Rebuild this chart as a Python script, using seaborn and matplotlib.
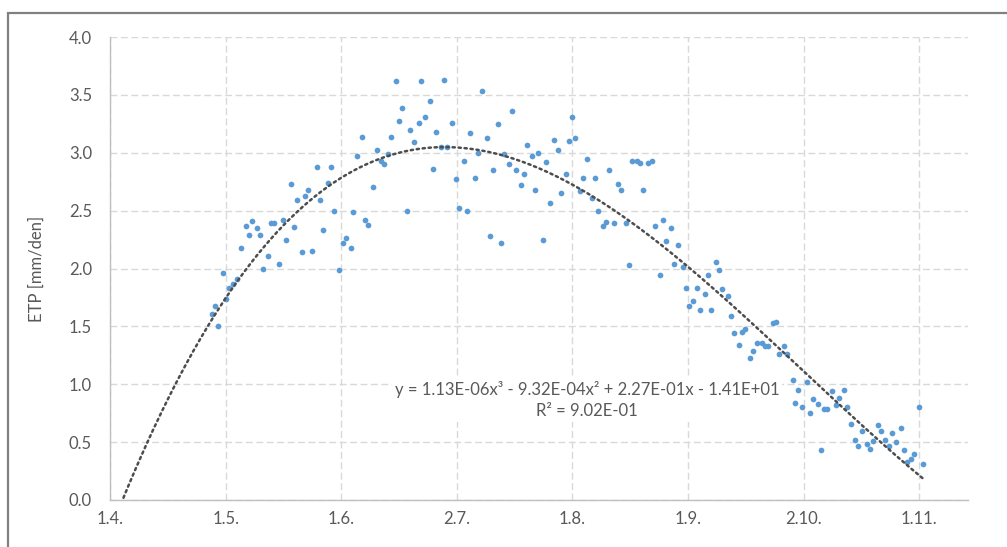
import numpy as np
import pandas as pd
import matplotlib
matplotlib.use("Agg")
import matplotlib.pyplot as plt
from matplotlib.patches import Rectangle
import seaborn as sns

# ---- data (days after 1.4., ETP in mm/day) ----
days = [26.9, 27.7, 28.6, 29.9, 30.8, 31.6, 32.6, 33.7, 34.6, 35.9,
        36.7, 37.6, 38.8, 39.8, 40.6, 41.9, 42.7, 43.4, 44.8, 45.7,
        46.6, 47.8, 48.8, 49.6, 50.9, 51.7, 52.5, 53.5, 54.7, 55.6,
        56.4, 57.7, 58.5, 59.4, 60.7, 61.6, 62.5, 63.7, 64.4, 65.4,
        66.6, 67.6, 68.4, 69.6, 70.6, 71.7, 72.6, 73.6, 74.4, 75.7,
        76.6, 77.4, 78.7, 79.5, 80.4, 81.7, 82.4, 83.5, 84.6, 85.6,
        86.4, 87.5, 88.5, 89.3, 90.4, 91.5, 92.3, 93.7, 94.5, 95.3,
        96.7, 97.5, 98.4, 99.7, 100.5, 101.5, 102.6, 103.5, 104.4, 105.7,
        106.5, 107.4, 108.7, 109.6, 110.4, 111.7, 112.5, 113.4, 114.6, 115.5,
        116.4, 117.6, 118.5, 119.4, 120.6, 121.5, 122.3, 123.2, 124.5, 125.3,
        126.2, 127.5, 128.3, 129.2, 130.4, 131.3, 132.2, 133.5, 134.4, 135.2,
        136.5, 137.4, 138.2, 139.5, 140.4, 141.2, 142.5, 143.4, 144.3, 145.5,
        146.4, 147.2, 148.6, 149.4, 150.3, 151.6, 152.4, 153.3, 154.4, 155.3,
        156.2, 157.4, 158.4, 159.1, 160.5, 161.3, 162.1, 163.5, 164.3, 165.2,
        166.4, 167.3, 168.2, 169.4, 170.3, 171.2, 172.5, 173.4, 174.2, 175.4,
        176.2, 177.1, 178.4, 179.3, 180.8, 181.4, 182.2, 183.1, 184.4, 185.3,
        186.2, 187.4, 188.2, 188.9, 189.8, 191.2, 192.2, 192.9, 194.2, 195.1,
        196.0, 197.2, 198.1, 199.0, 200.3, 201.2, 202.0, 203.3, 204.2, 205.0,
        206.3, 207.1, 208.0, 209.3, 210.1, 211.0, 211.9, 212.9, 214.0, 215.3]

etp = [1.61, 1.68, 1.50, 1.96, 1.74, 1.83, 1.87, 1.91, 2.18, 2.37,
       2.29, 2.41, 2.35, 2.29, 2.00, 2.11, 2.39, 2.39, 2.04, 2.42,
       2.25, 2.73, 2.36, 2.59, 2.14, 2.63, 2.68, 2.15, 2.88, 2.59,
       2.33, 2.74, 2.88, 2.50, 1.99, 2.22, 2.26, 2.18, 2.49, 2.97,
       3.14, 2.42, 2.38, 2.70, 3.02, 2.93, 2.90, 2.99, 3.14, 3.62,
       3.27, 3.39, 2.50, 3.20, 3.09, 3.26, 3.62, 3.31, 3.45, 2.86,
       3.18, 3.05, 3.63, 3.05, 3.26, 2.77, 2.52, 2.93, 2.50, 3.17,
       2.78, 3.00, 3.53, 3.13, 2.28, 2.85, 3.25, 2.22, 2.99, 2.90,
       3.36, 2.85, 2.72, 2.82, 3.07, 2.97, 2.68, 3.00, 2.25, 2.92,
       2.57, 3.11, 3.02, 2.65, 2.82, 3.10, 3.31, 3.13, 2.67, 2.78,
       2.95, 2.61, 2.78, 2.50, 2.37, 2.40, 2.85, 2.39, 2.73, 2.68,
       2.39, 2.03, 2.93, 2.93, 2.91, 2.68, 2.91, 2.93, 2.37, 1.94,
       2.42, 2.24, 2.35, 2.04, 2.20, 2.01, 1.83, 1.68, 1.72, 1.83,
       1.64, 1.78, 1.94, 1.64, 2.06, 1.99, 1.82, 1.76, 1.59, 1.44,
       1.34, 1.45, 1.48, 1.23, 1.29, 1.36, 1.36, 1.33, 1.33, 1.53,
       1.54, 1.26, 1.33, 1.26, 1.04, 0.84, 0.95, 0.80, 1.02, 0.75,
       0.87, 0.83, 0.43, 0.79, 0.79, 0.94, 0.82, 0.88, 0.95, 0.80,
       0.66, 0.52, 0.47, 0.60, 0.48, 0.44, 0.51, 0.65, 0.60, 0.52,
       0.47, 0.58, 0.50, 0.62, 0.43, 0.33, 0.35, 0.40, 0.80, 0.31]

tick_labels = ["1.4.", "1.5.", "1.6.", "2.7.", "1.8.", "1.9.", "2.10.", "1.11."]
y_ticks = [0.0, 0.5, 1.0, 1.5, 2.0, 2.5, 3.0, 3.5, 4.0]
equation = "y = 1.13E-06x³ - 9.32E-04x² + 2.27E-01x - 1.41E+01\nR² = 9.02E-01"

df = pd.DataFrame({"day": days, "ETP": etp})

# ---- style ----
sns.set_theme(style="white")
plt.rcParams["font.family"] = ["Lato", "DejaVu Sans"]
text_color = "#595959"
fs = 12

W, H = 1007, 547
fig = plt.figure(figsize=(W / 100, H / 100), dpi=100)
ax = fig.add_axes([110 / W, 1 - 500 / H, (968 - 110) / W, (500 - 37) / H])

# outer chart-area border (cropped screenshot)
fig.patches.append(Rectangle((8 / W, -0.1), 1.2, (H - 13) / H + 0.1,
                             transform=fig.transFigure, fill=False,
                             edgecolor="#808080", linewidth=1.6, zorder=10))

# x axis: Excel-like evenly spaced major unit
major_unit = 30.6
x_ticks = [i * major_unit for i in range(len(tick_labels))]
ax.set_xlim(0, 227.1)
ax.set_ylim(0, 4.0)
ax.set_xticks(x_ticks)
ax.set_xticklabels(tick_labels)
ax.set_yticks(y_ticks)
ax.set_yticklabels([f"{v:.1f}" for v in y_ticks])

ax.grid(True, color="#D9D9D9", linestyle=(0, (5, 2.5)), linewidth=1.0)
ax.set_axisbelow(True)
for s in ["top", "right"]:
    ax.spines[s].set_visible(False)
for s in ["left", "bottom"]:
    ax.spines[s].set_color("#BFBFBF")
    ax.spines[s].set_linewidth(1.0)

ax.tick_params(axis="both", length=0, labelsize=fs, labelcolor=text_color)
ax.tick_params(axis="y", pad=13)
ax.tick_params(axis="x", pad=8)

# points
sns.scatterplot(data=df, x="day", y="ETP", ax=ax, s=17, color="#5B9BD5",
                linewidth=0, zorder=3, legend=False)

# cubic trendline (fitted to the data, with backward forecast clipped at 0)
coef = np.polyfit(df["day"], df["ETP"], 3)
xt = np.linspace(-10, df["day"].max(), 400)
yt = np.polyval(coef, xt)
ax.plot(xt, yt, color="#4D4D4D", linewidth=1.8, linestyle=(0, (0.9, 1.5)),
        dash_capstyle="round", zorder=4)

ax.text((587 - 110) / (968 - 110), (500 - 400) / (500 - 37), equation,
        transform=ax.transAxes, ha="center", va="center", ma="center",
        fontsize=fs, color=text_color, linespacing=1.45, zorder=5,
        bbox=dict(facecolor="white", edgecolor="none", pad=2))

ax.set_xlabel("")
ax.set_ylabel("ETP [mm/den]", fontsize=fs, color=text_color)
ax.yaxis.set_label_coords((45 - 110) / (968 - 110), 0.5)

fig.savefig("out.png", dpi=100)
